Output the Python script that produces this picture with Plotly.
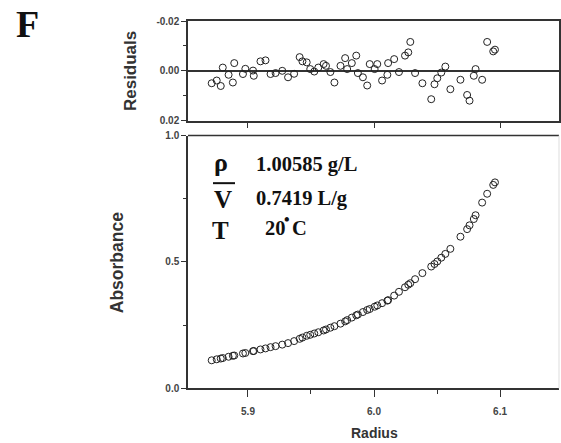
import plotly.graph_objects as go

# ---- data ----
radius = [5.8712, 5.8752, 5.8784, 5.8800, 5.8846, 5.8880, 5.8891, 5.8960, 5.8979, 5.9040,
          5.9046, 5.9099, 5.9139, 5.9179, 5.9219, 5.9272, 5.9318, 5.9366, 5.9410, 5.9432,
          5.9466, 5.9494, 5.9526, 5.9558, 5.9600, 5.9619, 5.9654, 5.9686, 5.9734, 5.9771,
          5.9787, 5.9824, 5.9859, 5.9872, 5.9912, 5.9946, 5.9966, 6.0005, 6.0026, 6.0064,
          6.0106, 6.0112, 6.0160, 6.0198, 6.0246, 6.0272, 6.0288, 6.0326, 6.0384, 6.0454,
          6.0480, 6.0502, 6.0534, 6.0566, 6.0606, 6.0686, 6.0739, 6.0758, 6.0792, 6.0806,
          6.0858, 6.0898, 6.0946, 6.0960]

residuals = [0.0050, 0.0039, 0.0061, -0.0013, 0.0016, 0.0047, -0.0031, 0.0013, -0.0008, -0.0001,
             0.0020, -0.0038, -0.0042, 0.0013, 0.0009, 0.0000, 0.0026, 0.0012, -0.0055, -0.0038,
             -0.0034, -0.0007, 0.0003, -0.0013, -0.0027, -0.0020, 0.0005, 0.0047, -0.0020, -0.0051,
             -0.0007, -0.0031, -0.0061, 0.0009, 0.0026, 0.0059, -0.0027, -0.0007, -0.0027, 0.0039,
             0.0016, -0.0031, -0.0047, 0.0005, -0.0061, -0.0074, -0.0116, 0.0009, 0.0050, 0.0114,
             0.0054, 0.0030, 0.0007, -0.0017, 0.0074, 0.0036, 0.0097, 0.0120, 0.0020, -0.0007,
             0.0036, -0.0116, -0.0078, -0.0085]

absorbance = [0.111, 0.115, 0.118, 0.120, 0.125, 0.129, 0.130, 0.138, 0.140, 0.147,
              0.148, 0.154, 0.158, 0.163, 0.167, 0.173, 0.179, 0.187, 0.196, 0.201,
              0.208, 0.212, 0.217, 0.222, 0.229, 0.233, 0.240, 0.246, 0.256, 0.265,
              0.270, 0.280, 0.289, 0.292, 0.302, 0.310, 0.314, 0.323, 0.328, 0.337,
              0.347, 0.349, 0.367, 0.382, 0.400, 0.410, 0.416, 0.432, 0.456, 0.482,
              0.492, 0.502, 0.517, 0.532, 0.552, 0.600, 0.630, 0.645, 0.670, 0.685,
              0.735, 0.770, 0.805, 0.815]

x_ticks = [5.9, 6.0, 6.1]
x_tick_labels = ["5.9", "6.0", "6.1"]
x_minor = [5.95, 6.05]
res_ticks = [-0.02, 0.0, 0.02]
res_tick_labels = ["-0.02", "0.00", "0.02"]
res_minor = [-0.01, 0.01]
abs_ticks = [0.0, 0.5, 1.0]
abs_tick_labels = ["0.0", "0.5", "1.0"]
abs_minor = [0.25, 0.75]

W, H = 561, 443
def px(x):
    return x / W
def py(y):
    # vertical pixel target -> paper fraction (compensates the capture's vertical mapping)
    yin = (y - 5.0) / 0.972
    return 1 - yin / H

X_RANGE = [5.8524, 6.1468]
X_DOM = [px(188), px(559)]
AX = "#333333"
TICKFONT = dict(family="Arial, Liberation Sans, sans-serif", size=10, color="#444444", weight="bold")

fig = go.Figure()
marker = dict(symbol="circle-open", size=7, color="#222222", line=dict(width=1, color="#222222"))
fig.add_trace(go.Scatter(x=radius, y=residuals, mode="markers", marker=marker,
                         xaxis="x", yaxis="y", showlegend=False))
fig.add_trace(go.Scatter(x=radius, y=absorbance, mode="markers", marker=marker,
                         xaxis="x2", yaxis="y2", showlegend=False))

fig.update_layout(
    width=W, height=H, autosize=False,
    margin=dict(l=0, r=0, t=0, b=0),
    paper_bgcolor="white", plot_bgcolor="white",
    xaxis=dict(domain=X_DOM, range=X_RANGE, anchor="y", showgrid=False, zeroline=False,
               showline=True, linecolor=AX, linewidth=1.5, mirror=True,
               tickmode="array", tickvals=x_ticks, showticklabels=False,
               ticks="outside", ticklen=6, tickwidth=1.2, tickcolor=AX),
    yaxis=dict(domain=[py(119.5), py(20)], range=[0.02, -0.02], anchor="x", showgrid=False,
               zeroline=True, zerolinecolor=AX, zerolinewidth=1.5,
               showline=True, linecolor=AX, linewidth=1.5, mirror=True,
               tickmode="array", tickvals=res_ticks, ticktext=res_tick_labels,
               ticks="outside", ticklen=5, tickwidth=1.2, tickcolor=AX, tickfont=TICKFONT,
               minor=dict(tickmode="array", tickvals=res_minor, ticks="outside", ticklen=3,
                          tickcolor=AX, showgrid=False)),
    xaxis2=dict(domain=X_DOM, range=X_RANGE, anchor="y2", showgrid=False, zeroline=False,
                showline=True, linecolor=AX, linewidth=1.5, mirror=False,
                tickmode="array", tickvals=x_ticks, ticktext=x_tick_labels,
                ticks="outside", ticklen=7, tickwidth=1.2, tickcolor=AX, tickfont=TICKFONT,
                ticklabelstandoff=6,
                minor=dict(tickmode="array", tickvals=x_minor, ticks="outside", ticklen=4,
                           tickcolor=AX, showgrid=False)),
    yaxis2=dict(domain=[py(387), py(134.5)], range=[0, 1.0], anchor="x2", showgrid=False,
                zeroline=False, showline=True, linecolor=AX, linewidth=1.5,
                tickmode="array", tickvals=abs_ticks, ticktext=abs_tick_labels,
                ticks="outside", ticklen=5, tickwidth=1.2, tickcolor=AX, tickfont=TICKFONT,
                minor=dict(tickmode="array", tickvals=abs_minor, ticks="outside", ticklen=3,
                           tickcolor=AX, showgrid=False)),
)

# panel borders of the lower plot (top dark, right faint)
fig.add_shape(type="line", xref="paper", yref="paper", x0=X_DOM[0], x1=X_DOM[1],
              y0=py(134.5), y1=py(134.5), line=dict(color=AX, width=1.5))
fig.add_shape(type="line", xref="paper", yref="paper", x0=X_DOM[1], x1=X_DOM[1],
              y0=py(387), y1=py(134.5), line=dict(color="#dddddd", width=1))

SANS = "Arial, Liberation Sans, sans-serif"
SERIF = "Times New Roman, Liberation Serif, serif"
def ann(text, x, y, size, family, xanchor="center", angle=0, color="#111111"):
    fig.add_annotation(text=text, x=px(x), y=py(y), xref="paper", yref="paper",
                       showarrow=False, xanchor=xanchor, yanchor="middle", textangle=angle,
                       font=dict(family=family, size=size, color=color, weight="bold"))

ann("F", 27, 23, 38, SERIF)
ann("Residuals", 130, 70, 17, SANS, angle=-90, color="#333333")
ann("Absorbance", 117, 262, 17.5, SANS, angle=-90, color="#333333")
ann("Radius", 374, 432, 14, SANS, color="#333333")

ann("ρ", 221, 161, 26, SERIF)
ann("1.00585 g/L", 254, 163, 20.5, SERIF, xanchor="left")
ann("V", 223, 198, 25, SERIF)
fig.add_shape(type="line", xref="paper", yref="paper", x0=px(213), x1=px(235),
              y0=py(182), y1=py(182), line=dict(color="#111111", width=2))
ann("0.7419 L/g", 254, 197, 20.5, SERIF, xanchor="left")
ann("T", 220, 229, 25, SERIF)
ann("20", 263, 227, 20.5, SERIF, xanchor="left")
ann("•", 287, 218, 16, SERIF)
ann("C", 290, 227, 20.5, SERIF, xanchor="left")

POST = ("document.documentElement.style.margin='0';document.documentElement.style.padding='0';"
        "document.documentElement.style.overflow='hidden';document.documentElement.style.height='443px';"
        "document.body.style.margin='0';document.body.style.padding='0';"
        "document.body.style.overflow='hidden';document.body.style.height='443px';")

fig.write_html("out.html", config={"displayModeBar": False}, post_script=POST)
